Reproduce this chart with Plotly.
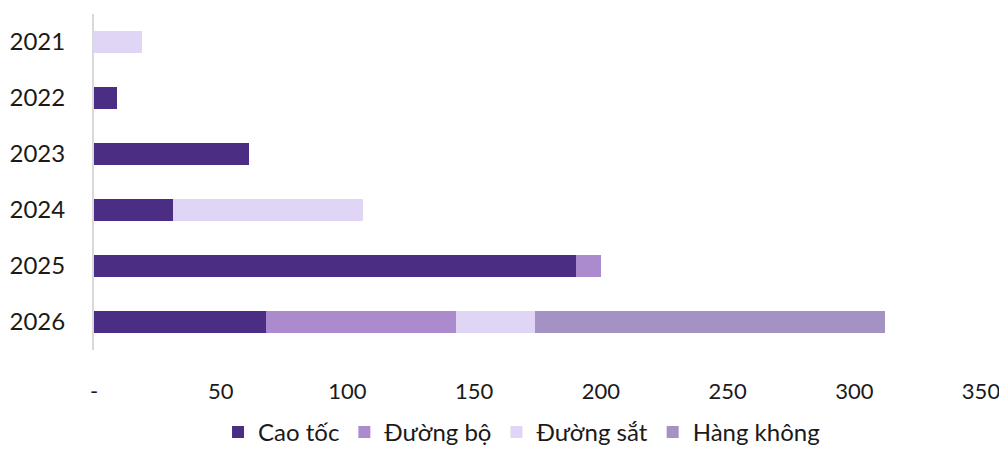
import plotly.graph_objects as go

years = ["2021", "2022", "2023", "2024", "2025", "2026"]
cao_toc = [0, 9, 61, 31, 190, 68]
duong_bo = [0, 0, 0, 0, 10, 75]
duong_sat = [19, 0, 0, 75, 0, 31]
hang_khong = [0, 0, 0, 0, 0, 138]

series = [
    ("Cao tốc", cao_toc, "#4B2E83"),
    ("Đường bộ", duong_bo, "#AB8BCE"),
    ("Đường sắt", duong_sat, "#E0D5F5"),
    ("Hàng không", hang_khong, "#A492C4"),
]

x_tickvals = [0, 50, 100, 150, 200, 250, 300, 350]
x_ticktext = ["-", "50", "100", "150", "200", "250", "300", "350"]

fig = go.Figure()
for name, vals, color in series:
    fig.add_trace(go.Bar(
        y=years, x=vals, name=name, orientation="h",
        marker=dict(color=color, line=dict(width=0)),
    ))

font_family = "Lato, Noto Sans, sans-serif"
fig.update_layout(
    barmode="stack",
    bargap=0.6,
    width=999, height=442,
    margin=dict(l=86, r=26, t=6, b=100, autoexpand=False),
    plot_bgcolor="white", paper_bgcolor="white",
    font=dict(family=font_family, size=24, color="#1a1a1a"),
    showlegend=True,
    legend=dict(
        orientation="h", x=0.482, xanchor="center", y=-0.245, yanchor="middle",
        font=dict(size=24), traceorder="normal",
    ),
    xaxis=dict(
        range=[0, 350], tickvals=x_tickvals, ticktext=x_ticktext,
        showgrid=False, zeroline=False, showline=False, automargin=False,
        ticks="outside", ticklen=22, tickcolor="rgba(0,0,0,0)",
        tickfont=dict(size=22),
    ),
    yaxis=dict(
        autorange="reversed", showgrid=False, zeroline=False, automargin=False,
        showline=True, linecolor="#d9d9d9", linewidth=2,
        ticks="outside", ticklen=22, tickcolor="rgba(0,0,0,0)",
        tickfont=dict(size=24),
    ),
)

fig.write_html("out.html")
